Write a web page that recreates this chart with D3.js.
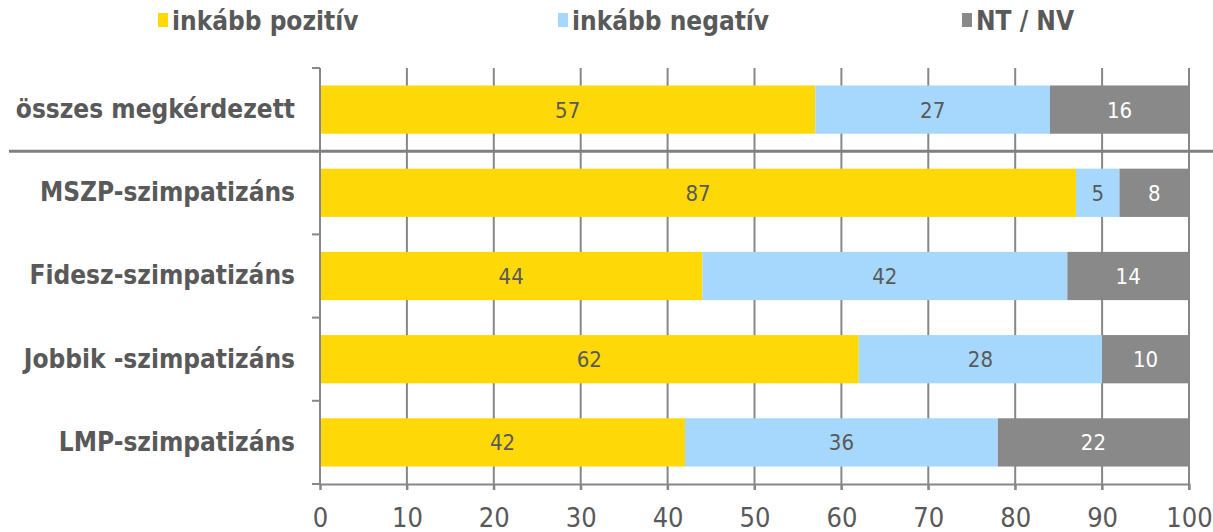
<!DOCTYPE html>
<html>
<head>
<meta charset="utf-8">
<script src="https://cdn.jsdelivr.net/npm/d3@7"></script>
<style>
  body { margin: 0; background: #fff; }
  text { font-family: "DejaVu Sans Condensed", "DejaVu Sans", sans-serif; }
</style>
</head>
<body>
<div id="chart"></div>
<script>
// chart data
var categories = ["összes megkérdezett", "MSZP-szimpatizáns", "Fidesz-szimpatizáns", "Jobbik -szimpatizáns", "LMP-szimpatizáns"];
var seriesNames = ["inkább pozitív", "inkább negatív", "NT / NV"];
var positive = [57, 87, 44, 62, 42];
var negative = [27, 5, 42, 28, 36];
var noAnswer = [16, 8, 14, 10, 22];
var xTicks = [0, 10, 20, 30, 40, 50, 60, 70, 80, 90, 100];

var colors = ["#FFD808", "#A6D8FD", "#898989"];
var labelColors = ["#595959", "#595959", "#ffffff"];

var svgWidth = 1213;
var svgHeight = 532;
var margin = { top: 68, right: 24, bottom: 48, left: 320 };
var chartWidth = svgWidth - margin.left - margin.right;
var chartHeight = svgHeight - margin.top - margin.bottom;

var svg = d3.select("#chart")
  .append("svg")
    .attr("width", svgWidth)
    .attr("height", svgHeight);

var g = svg.append("g")
  .attr("transform", `translate(${margin.left}, ${margin.top})`);

var x = d3.scaleLinear().domain([0, 100]).range([0, 869]);
var y = d3.scaleBand().domain(categories).range([0, chartHeight]).paddingInner(0.42).paddingOuter(0.21);

// build stacked rows
var rows = categories.map(function(c, i) {
  return { cat: c, vals: [positive[i], negative[i], noAnswer[i]] };
});

// gridlines
g.append("g")
  .selectAll("line")
  .data(xTicks.slice(1))
  .enter()
  .append("line")
    .attr("x1", d => x(d)).attr("x2", d => x(d))
    .attr("y1", 0).attr("y2", chartHeight + 6)
    .attr("stroke", "#878787")
    .attr("stroke-width", 2);

// bars
rows.forEach(function(r) {
  var start = 0;
  r.vals.forEach(function(v, k) {
    g.append("rect")
      .attr("x", x(start))
      .attr("y", y(r.cat))
      .attr("width", x(start + v) - x(start))
      .attr("height", y.bandwidth())
      .attr("fill", colors[k]);
    g.append("text")
      .attr("x", x(start + v / 2))
      .attr("y", y(r.cat) + y.bandwidth() / 2)
      .attr("dy", "0.36em")
      .attr("text-anchor", "middle")
      .attr("fill", labelColors[k])
      .style("font-size", "22px")
      .text(v);
    start += v;
  });
});

// x axis
var bottomAxis = d3.axisBottom(x).tickValues(xTicks).tickSize(6).tickPadding(18);
var xg = g.append("g")
  .attr("transform", `translate(0, ${chartHeight})`)
  .call(bottomAxis);
xg.select(".domain").attr("stroke", "#878787").attr("stroke-width", 2);
xg.selectAll(".tick line").attr("stroke", "#878787").attr("stroke-width", 2);
xg.selectAll(".tick text")
  .attr("fill", "#595959")
  .style("font-size", "27px")
  .style("font-family", "'DejaVu Sans Condensed', sans-serif");

// y axis
var step = chartHeight / categories.length;
var leftAxis = d3.axisLeft(y).tickSize(0).tickPadding(25);
var yg = g.append("g").call(leftAxis);
yg.select(".domain").remove();
yg.append("line")
  .attr("x1", 0).attr("x2", 0).attr("y1", 0).attr("y2", chartHeight)
  .attr("stroke", "#878787").attr("stroke-width", 2);
yg.selectAll(".cattick")
  .data(d3.range(categories.length + 1))
  .enter()
  .append("line")
    .attr("x1", -8).attr("x2", 0)
    .attr("y1", d => d * step).attr("y2", d => d * step)
    .attr("stroke", "#878787").attr("stroke-width", 2);
yg.selectAll(".tick text")
  .attr("fill", "#595959")
  .style("font-size", "26px")
  .style("font-weight", "bold");

// separator line between total and parties
g.append("line")
  .attr("x1", 9 - margin.left).attr("x2", svgWidth - margin.left)
  .attr("y1", step).attr("y2", step)
  .attr("stroke", "#808080")
  .attr("stroke-width", 3);

// legend
var legendX = [158, 558, 962];
var legend = svg.append("g");
seriesNames.forEach(function(name, k) {
  legend.append("rect")
    .attr("x", legendX[k]).attr("y", 13)
    .attr("width", 10).attr("height", 14)
    .attr("fill", colors[k]);
  legend.append("text")
    .attr("x", legendX[k] + 14).attr("y", 21)
    .attr("dy", "0.36em")
    .attr("fill", "#595959")
    .style("font-size", "26px")
    .style("font-weight", "bold")
    .text(name);
});
</script>
</body>
</html>
